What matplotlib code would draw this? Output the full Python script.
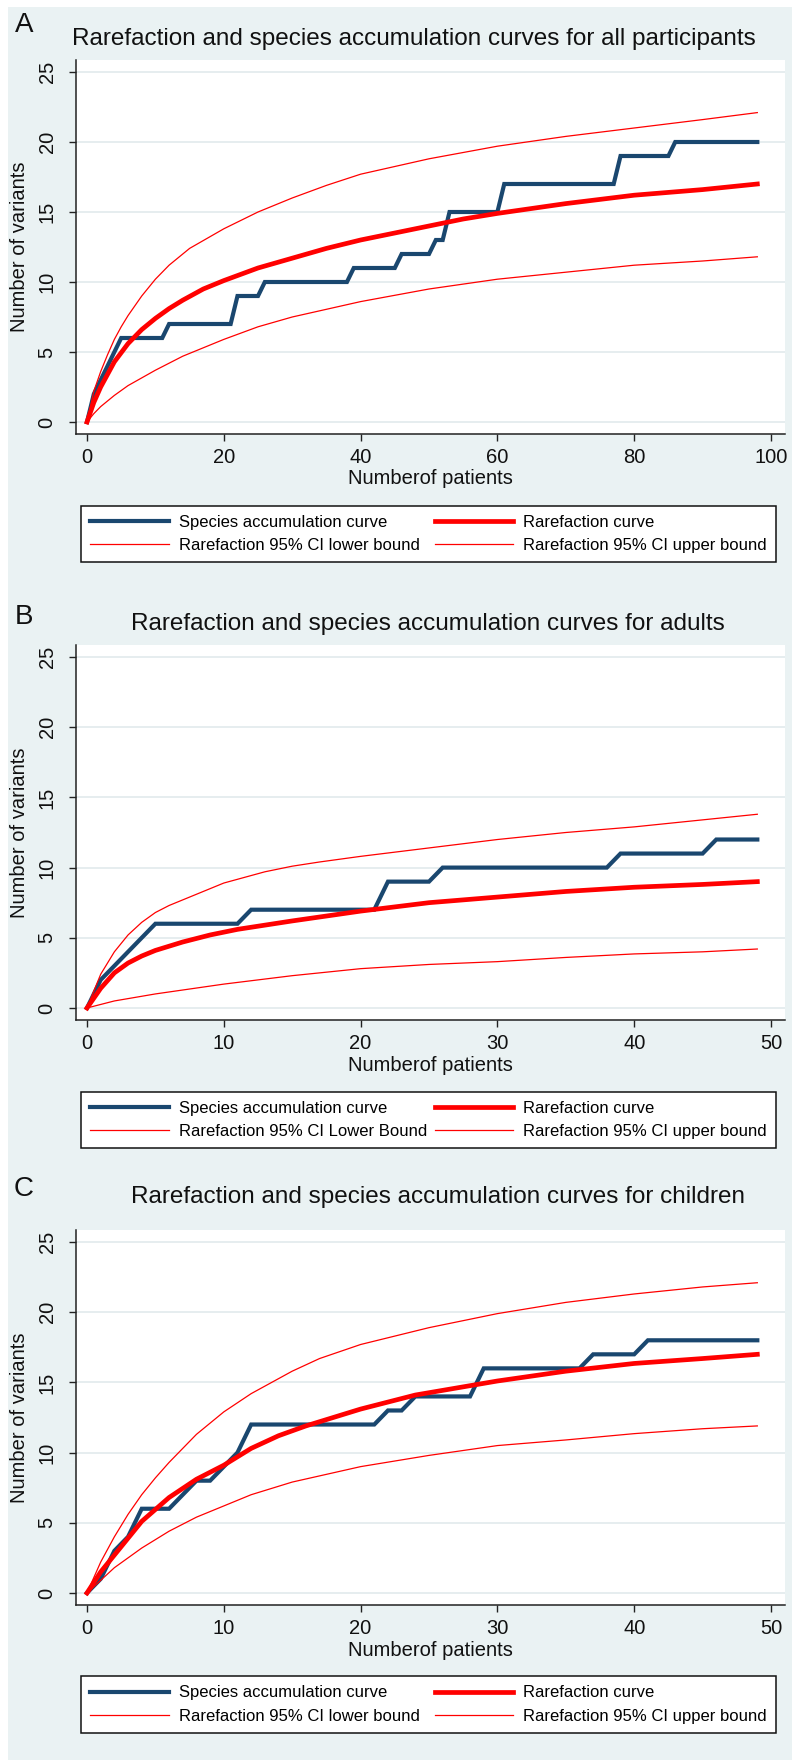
import matplotlib
matplotlib.use("Agg")
import matplotlib.pyplot as plt
from matplotlib.patches import Rectangle

plt.rcParams["font.family"] = ["Liberation Sans", "DejaVu Sans"]

# ---- panel A: all participants ----
sac_all_x = [0, 1, 5, 11, 12, 21, 22, 25, 26, 38, 39, 45, 46, 50, 51, 52, 53, 60, 61, 77, 78, 85, 86, 98]
sac_all_y = [0, 2, 6, 6, 7, 7, 9, 9, 10, 10, 11, 11, 12, 12, 13, 13, 15, 15, 17, 17, 19, 19, 20, 20]
rare_all_x = [0, 1, 2, 4, 6, 8, 10, 12, 14, 17, 20, 25, 30, 35, 40, 45, 50, 55, 60, 70, 80, 90, 98]
rare_all_y = [0, 1.4, 2.5, 4.3, 5.6, 6.6, 7.4, 8.1, 8.7, 9.5, 10.1, 11.0, 11.7, 12.4, 13.0, 13.5, 14.0, 14.5, 14.9, 15.6, 16.2, 16.6, 17.0]
up_all_x = [0, 1, 2, 3, 4, 5, 6, 8, 10, 12, 15, 20, 25, 30, 35, 40, 50, 60, 70, 80, 90, 98]
up_all_y = [0, 2.2, 3.6, 4.8, 5.9, 6.8, 7.6, 9.0, 10.2, 11.2, 12.4, 13.8, 15.0, 16.0, 16.9, 17.7, 18.8, 19.7, 20.4, 21.0, 21.6, 22.1]
lo_all_x = [0, 1, 2, 4, 6, 10, 14, 20, 25, 30, 40, 50, 60, 70, 80, 90, 98]
lo_all_y = [0, 0.6, 1.1, 1.9, 2.6, 3.7, 4.7, 5.9, 6.8, 7.5, 8.6, 9.5, 10.2, 10.7, 11.2, 11.5, 11.8]

# ---- panel B: adults ----
sac_ad_x = [0, 1, 5, 11, 12, 21, 22, 25, 26, 38, 39, 45, 46, 49]
sac_ad_y = [0, 2, 6, 6, 7, 7, 9, 9, 10, 10, 11, 11, 12, 12]
rare_ad_x = [0, 1, 2, 3, 4, 5, 7, 9, 11, 15, 20, 25, 30, 35, 40, 45, 49]
rare_ad_y = [0, 1.4, 2.5, 3.2, 3.7, 4.1, 4.7, 5.2, 5.6, 6.2, 6.9, 7.5, 7.9, 8.3, 8.6, 8.8, 9.0]
up_ad_x = [0, 1, 2, 3, 4, 5, 6, 8, 10, 13, 15, 17, 20, 25, 30, 35, 40, 45, 49]
up_ad_y = [0, 2.4, 4.0, 5.2, 6.1, 6.8, 7.3, 8.1, 8.9, 9.7, 10.1, 10.4, 10.8, 11.4, 12.0, 12.5, 12.9, 13.4, 13.8]
lo_ad_x = [0, 2, 5, 10, 15, 20, 25, 30, 35, 40, 45, 49]
lo_ad_y = [0, 0.5, 1.0, 1.7, 2.3, 2.8, 3.1, 3.3, 3.6, 3.85, 4.0, 4.2]

# ---- panel C: children ----
sac_ch_x = [0, 1, 2, 3, 4, 6, 7, 8, 9, 10, 11, 12, 21, 22, 23, 24, 28, 29, 36, 37, 40, 41, 49]
sac_ch_y = [0, 1, 3, 4, 6, 6, 7, 8, 8, 9, 10, 12, 12, 13, 13, 14, 14, 16, 16, 17, 17, 18, 18]
rare_ch_x = [0, 1, 2, 4, 6, 8, 10, 12, 14, 16, 18, 20, 22, 24, 27, 30, 35, 40, 45, 49]
rare_ch_y = [0, 1.5, 2.7, 5.1, 6.8, 8.1, 9.1, 10.3, 11.2, 11.9, 12.5, 13.1, 13.6, 14.1, 14.6, 15.1, 15.8, 16.35, 16.7, 17.0]
up_ch_x = [0, 1, 2, 3, 4, 5, 6, 8, 10, 12, 15, 17, 20, 25, 30, 35, 40, 45, 49]
up_ch_y = [0, 2.2, 4.0, 5.6, 7.0, 8.2, 9.3, 11.3, 12.9, 14.2, 15.8, 16.7, 17.7, 18.9, 19.9, 20.7, 21.3, 21.8, 22.1]
lo_ch_x = [0, 2, 4, 6, 8, 10, 12, 15, 20, 25, 30, 35, 40, 45, 49]
lo_ch_y = [0, 1.8, 3.2, 4.4, 5.4, 6.2, 7.0, 7.9, 9.0, 9.8, 10.5, 10.9, 11.35, 11.7, 11.9]

titles = ["Rarefaction and species accumulation curves for all participants",
          "Rarefaction and species accumulation curves for adults",
          "Rarefaction and species accumulation curves for children"]
letters = ["A", "B", "C"]
lower_labels = ["Rarefaction 95% CI lower bound",
                "Rarefaction 95% CI Lower Bound",
                "Rarefaction 95% CI lower bound"]
x_ticks = [[0, 20, 40, 60, 80, 100], [0, 10, 20, 30, 40, 50], [0, 10, 20, 30, 40, 50]]
y_ticks = [0, 5, 10, 15, 20, 25]

W, H = 792, 1760
BG = "#eaf2f3"
NAVY = "#1a476f"
RED = "#ff0000"

fig = plt.figure(figsize=(W / 100, H / 100), dpi=100)
fig.patch.set_facecolor("white")
fig.add_artist(Rectangle((8 / W, 0), 1 - 8 / W, 1 - 7 / H, transform=fig.transFigure,
                         facecolor=BG, edgecolor="none", zorder=-10))


def fx(px):
    return px / W


def fy(py):
    return 1 - py / H


# layout in pixels: (axes top, axes bottom, legend top, legend bottom, title center, letter center, title x)
layout = [
    (60, 434, 501, 567, 39, 25, 414),
    (645, 1020, 1087, 1153, 624, 617, 428),
    (1230, 1605, 1672, 1737, 1197, 1189, 438),
]

series = [
    (sac_all_x, sac_all_y, rare_all_x, rare_all_y, lo_all_x, lo_all_y, up_all_x, up_all_y),
    (sac_ad_x, sac_ad_y, rare_ad_x, rare_ad_y, lo_ad_x, lo_ad_y, up_ad_x, up_ad_y),
    (sac_ch_x, sac_ch_y, rare_ch_x, rare_ch_y, lo_ch_x, lo_ch_y, up_ch_x, up_ch_y),
]

ax_left, ax_right = 76, 785
for i in range(3):
    top, bot, lg_top, lg_bot, t_y, l_y, t_x = layout[i]
    sx, sy, rx, ry, lx, ly, ux, uy = series[i]

    ax = fig.add_axes([fx(ax_left), fy(bot), fx(ax_right - ax_left), (bot - top) / H])
    ax.set_facecolor("white")

    h_sac, = ax.plot(sx, sy, color=NAVY, lw=3.0, solid_joinstyle="miter", zorder=3)
    h_rare, = ax.plot(rx, ry, color=RED, lw=3.4, zorder=4)
    h_lo, = ax.plot(lx, ly, color=RED, lw=0.9, zorder=5)
    h_up, = ax.plot(ux, uy, color=RED, lw=0.9, zorder=5)

    xmax = x_ticks[i][-1]
    unit = 684 / xmax
    ax.set_xlim(-(87 - ax_left) / unit, (ax_right - 87) / unit)
    ax.set_ylim(-0.857, 25.857)
    ax.set_xticks(x_ticks[i])
    ax.set_yticks(y_ticks)
    ax.grid(axis="y", color="#e4ecee", lw=1.3, zorder=0)
    ax.set_axisbelow(True)

    for s in ["top", "right"]:
        ax.spines[s].set_visible(False)
    for s in ["left", "bottom"]:
        ax.spines[s].set_color("#222222")
        ax.spines[s].set_linewidth(1.1)

    ax.tick_params(axis="both", direction="out", length=5, width=1.0, color="#222222",
                   labelsize=14.5, labelcolor="#111111")
    ax.tick_params(axis="x", pad=5)
    ax.tick_params(axis="y", pad=9)
    for lab in ax.get_yticklabels():
        lab.set_rotation(90)
        lab.set_va("center")

    ax.set_xlabel("Numberof patients", fontsize=14.5, color="#111111", va="center")
    ax.xaxis.set_label_coords(0.5, -45 / (bot - top))
    ax.set_ylabel("Number of variants", fontsize=14.5, color="#111111", va="center")
    ax.yaxis.set_label_coords(-(76 - 20) / (ax_right - ax_left), 0.5)

    fig.text(fx(t_x), fy(t_y), titles[i], fontsize=17.5, ha="center", va="center", color="#111111")
    fig.text(fx(24), fy(l_y), letters[i], fontsize=20, ha="center", va="center", color="#111111")

    leg = ax.legend([h_sac, h_lo, h_rare, h_up],
                    ["Species accumulation curve", lower_labels[i],
                     "Rarefaction curve", "Rarefaction 95% CI upper bound"],
                    ncol=2, loc="center", mode="expand",
                    bbox_to_anchor=(fx(81), fy(lg_bot), fx(776 - 81), (lg_bot - lg_top) / H),
                    bbox_transform=fig.transFigure, borderaxespad=0,
                    fancybox=False, framealpha=1, edgecolor="#111111", facecolor="white",
                    fontsize=12, handlelength=4.7, handletextpad=0.6,
                    borderpad=0.55, labelspacing=0.5)
    leg.get_frame().set_linewidth(1.1)

fig.savefig("out.png", dpi=100, facecolor=fig.get_facecolor())
